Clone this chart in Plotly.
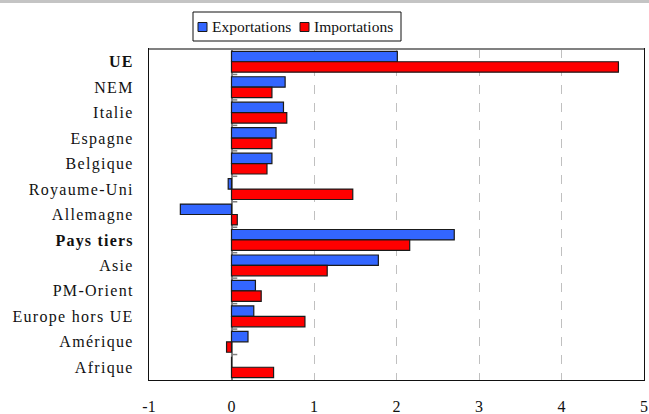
import plotly.graph_objects as go

# Contributions by partner zone (points)
categories = ["UE", "NEM", "Italie", "Espagne", "Belgique", "Royaume-Uni", "Allemagne",
              "Pays tiers", "Asie", "PM-Orient", "Europe hors UE", "Amérique", "Afrique"]
exportations = [2.01, 0.65, 0.63, 0.54, 0.49, -0.04, -0.62, 2.70, 1.78, 0.29, 0.27, 0.20, 0.0]
importations = [4.69, 0.49, 0.67, 0.49, 0.43, 1.47, 0.07, 2.16, 1.16, 0.36, 0.89, -0.06, 0.51]
series_names = ["Exportations", "Importations"]
series_colors = ["#3366FF", "#FF0000"]
bold_rows = ["UE", "Pays tiers"]
x_ticks = [-1, 0, 1, 2, 3, 4, 5]

FONT = "Liberation Serif, Times New Roman, serif"
W, H = 649, 414
ML, MR, MT, MB = 149, 5, 49, 34
PW, PH = W - ML - MR, H - MT - MB


def px_x(px):
    """page pixel column -> paper x"""
    return (px - ML) / PW


def px_y(py):
    """page pixel row -> paper y"""
    return 1 - (py - MT) / PH


def row_label(c):
    if c in bold_rows:
        return f"<b><span style='letter-spacing:1.2px'>{c}</span></b>"
    return f"<span style='letter-spacing:1.3px'>{c}</span>"


labels = [row_label(c) for c in categories]

fig = go.Figure()
for name, color, values in zip(series_names, series_colors, [exportations, importations]):
    fig.add_trace(go.Bar(
        y=labels, x=values, orientation="h", name=name,
        marker=dict(color=color, line=dict(color="#1a1a1a", width=1.2)),
    ))

shapes = []
# short tick marks on the zero axis between categories
for i in range(len(categories) - 1):
    shapes.append(dict(type="line", xref="x", yref="y", x0=0, x1=0.07,
                       y0=i + 0.5, y1=i + 0.5, line=dict(color="#808080", width=1.5)))
# top border of the plot area in gray
shapes.append(dict(type="line", xref="paper", yref="paper", x0=0, x1=1, y0=1, y1=1,
                   line=dict(color="#808080", width=2)))
# gray strip across the top edge of the page
shapes.append(dict(type="rect", xref="paper", yref="paper",
                   x0=px_x(0), x1=px_x(W), y0=px_y(3), y1=px_y(0),
                   line=dict(width=0), fillcolor="#c4c4c4"))

# legend box with swatches
annotations = []
shapes.append(dict(type="rect", xref="paper", yref="paper",
                   x0=px_x(193), x1=px_x(401), y0=px_y(41), y1=px_y(12),
                   line=dict(color="#111111", width=1), fillcolor="white"))
swatch_left = [198, 300]
for left, name, color in zip(swatch_left, series_names, series_colors):
    shapes.append(dict(type="rect", xref="paper", yref="paper",
                       x0=px_x(left), x1=px_x(left + 9), y0=px_y(31.5), y1=px_y(22.5),
                       line=dict(color="#1a1a1a", width=1), fillcolor=color))
    annotations.append(dict(xref="paper", yref="paper", x=px_x(left + 12), y=px_y(27),
                            xanchor="left", yanchor="middle", showarrow=False,
                            text=name, font=dict(family=FONT, size=15.5, color="#111111")))

fig.update_layout(
    width=W, height=H,
    margin=dict(l=ML, r=MR, t=MT, b=MB, autoexpand=False),
    paper_bgcolor="white", plot_bgcolor="white",
    barmode="group", bargap=0.18, bargroupgap=0.0,
    font=dict(family=FONT, size=16, color="#111111"),
    showlegend=False,
    shapes=shapes,
    annotations=annotations,
    xaxis=dict(
        range=[-1, 5], tickvals=x_ticks, ticktext=[str(v) for v in x_ticks],
        showgrid=True, gridcolor="#c0c0c0", griddash="dash", gridwidth=1,
        zeroline=True, zerolinecolor="#808080", zerolinewidth=1.5,
        showline=True, linecolor="#111111", linewidth=1.2, mirror=True,
        ticks="", ticklabelstandoff=12, automargin=False,
        tickfont=dict(family=FONT, size=16),
    ),
    yaxis=dict(
        autorange="reversed", type="category",
        showgrid=False, zeroline=False,
        showline=True, linecolor="#111111", linewidth=1.2, mirror=True,
        ticks="", ticklabelstandoff=11, automargin=False,
        tickfont=dict(family=FONT, size=16),
    ),
)

fig.write_html("out.html")
